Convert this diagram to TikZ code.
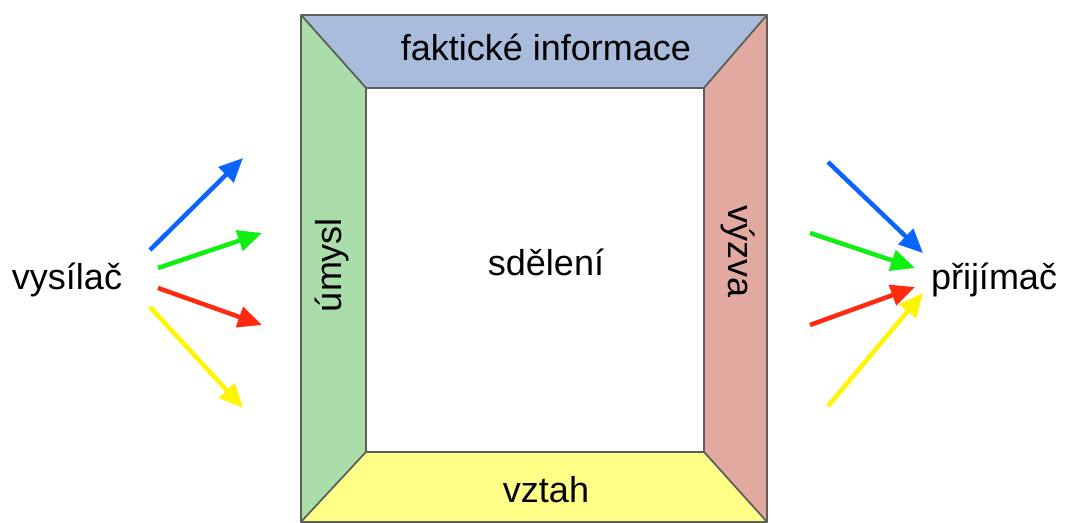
\documentclass[tikz,border=0pt]{standalone}
\usepackage{fontspec}
\setmainfont{Liberation Sans}
\usetikzlibrary{arrows.meta}
\usepackage{xcolor}

\definecolor{topblue}{HTML}{AABCDC}
\definecolor{sidegreen}{HTML}{AADDAA}
\definecolor{sidered}{HTML}{E2A9A1}
\definecolor{botyellow}{HTML}{FFFF88}
\definecolor{edgegray}{HTML}{5A5F5A}
\definecolor{arrblue}{HTML}{0A64FF}
\definecolor{arrgreen}{HTML}{10F010}
\definecolor{arrred}{HTML}{FF2A10}
\definecolor{arryellow}{HTML}{FFF500}

\begin{document}
\begin{tikzpicture}[x=1pt,y=-1pt,
    side/.style = {draw=edgegray, line width=1.6pt, line join=round},
    word/.style = {font=\fontsize{36}{42}\selectfont, inner sep=0pt},
    ray/.style = {line width=4.5pt, -{Triangle[length=24pt,width=21pt]}}
                    ]
    \useasboundingbox (0,0) rectangle (1065,522);
    \def\ox{301}  % outer frame
    \def\oy{15}
    \def\oX{767}
    \def\oY{522}
    \def\ix{366}  % inner square
    \def\iy{88}
    \def\iX{704}
    \def\iY{452}
    % four sides of the frame
    \draw[side,fill=topblue] (\ox,\oy) -- (\oX,\oy) -- (\iX,\iy) -- (\ix,\iy) -- cycle;
    \draw[side,fill=sidegreen] (\ox,\oy) -- (\ix,\iy) -- (\ix,\iY) -- (\ox,\oY) -- cycle;
    \draw[side,fill=sidered] (\oX,\oy) -- (\oX,\oY) -- (\iX,\iY) -- (\iX,\iy) -- cycle;
    \draw[side,fill=botyellow] (\ox,\oY) -- (\ix,\iY) -- (\iX,\iY) -- (\oX,\oY) -- cycle;
    % labels
    \node[word] at (546,47) (fakt) {faktické informace};
    \node[word] at (546,490) (vztah) {vztah};
    \node[word] at (546,262) (sdel) {sdělení};
    \node[word,rotate=90] at (332,265) (umysl) {úmysl};
    \node[word,rotate=-90] at (738,252) (vyzva) {výzva};
    \node[word] at (67,280) (vys) {vysílač};
    \node[word] at (994,280) (prij) {přijímač};
    % arrow ends
    \coordinate (sb) at (150,250);  \coordinate (tb) at (243,158);
    \coordinate (sg) at (158,268);  \coordinate (tg) at (262,233);
    \coordinate (sr) at (158,288);  \coordinate (tr) at (262,325);
    \coordinate (sy) at (150,307);  \coordinate (ty) at (243,408);
    \coordinate (ub) at (828,162);  \coordinate (vb) at (923,253);
    \coordinate (ug) at (810,233);  \coordinate (vg) at (915,268);
    \coordinate (ur) at (810,325);  \coordinate (vr) at (915,287);
    \coordinate (uy) at (828,406);  \coordinate (vy) at (923,293);
    \draw[ray,arrblue] (sb) -- (tb);
    \draw[ray,arrgreen] (sg) -- (tg);
    \draw[ray,arrred] (sr) -- (tr);
    \draw[ray,arryellow] (sy) -- (ty);
    \draw[ray,arrblue] (ub) -- (vb);
    \draw[ray,arrgreen] (ug) -- (vg);
    \draw[ray,arrred] (ur) -- (vr);
    \draw[ray,arryellow] (uy) -- (vy);
\end{tikzpicture}
\end{document}
